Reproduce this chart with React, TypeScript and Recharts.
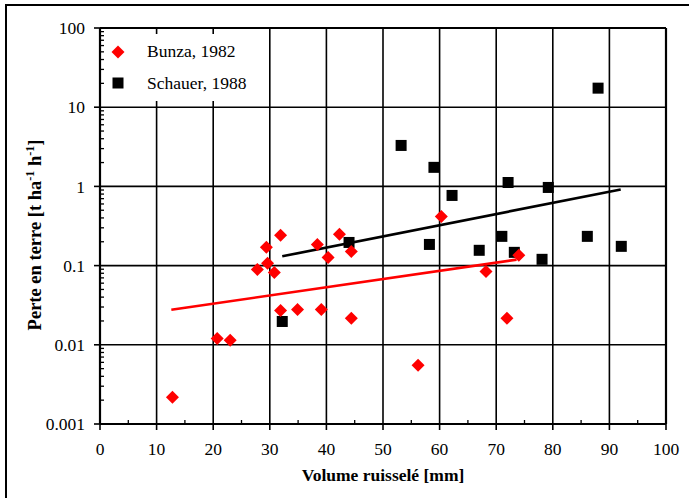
import React from 'react';
import { ScatterChart, Scatter, XAxis, YAxis, ReferenceLine } from 'recharts';

// Bunza, 1982
const bunzaX = [12.8, 20.7, 23.0, 27.8, 29.4, 29.6, 30.8, 31.9, 31.9, 34.9, 38.4, 39.1, 40.3, 42.3, 44.4, 44.4, 56.2, 60.3, 68.2, 71.9, 74.0];
const bunzaY = [0.00217, 0.012, 0.0114, 0.0895, 0.17, 0.107, 0.082, 0.241, 0.0272, 0.028, 0.185, 0.028, 0.127, 0.248, 0.151, 0.0216, 0.0055, 0.418, 0.0845, 0.0216, 0.135];

// Schauer, 1988
const schauerX = [32.2, 44.0, 53.2, 59.0, 62.2, 58.2, 67.0, 71.0, 72.1, 73.2, 78.1, 79.2, 86.1, 88.0, 92.1];
const schauerY = [0.0197, 0.196, 3.29, 1.74, 0.769, 0.185, 0.156, 0.234, 1.12, 0.147, 0.12, 0.97, 0.234, 17.4, 0.175];

// fitted lines (end points)
const bunzaFitX = [12.6, 73.6];
const bunzaFitY = [0.0277, 0.119];
const schauerFitX = [32.2, 92.0];
const schauerFitY = [0.131, 0.916];

const xMajor = [0, 10, 20, 30, 40, 50, 60, 70, 80, 90, 100];
const xMinor = [5, 15, 25, 35, 45, 55, 65, 75, 85, 95];
const yMajor = [0.001, 0.01, 0.1, 1, 10, 100];
const yMinorSteps = [2, 3, 4, 5, 6, 7, 8, 9];

const yMinor = yMajor.slice(0, -1).flatMap((d) => yMinorSteps.map((m) => +(d * m).toPrecision(3)));

const toPoints = (xs: number[], ys: number[]) => xs.map((x, i) => ({ x, y: ys[i] }));

const bunzaData = toPoints(bunzaX, bunzaY);
const schauerData = toPoints(schauerX, schauerY);
const bunzaFit = toPoints(bunzaFitX, bunzaFitY);
const schauerFit = toPoints(schauerFitX, schauerFitY);

const FONT = "'Liberation Serif', 'Times New Roman', serif";
const FS = 17.5;

const isMajorY = (v: number) => {
  const l = Math.log10(v);
  return Math.abs(l - Math.round(l)) < 1e-6;
};

const XTick = (props: any) => {
  const { x, y, payload } = props;
  const v = payload.value;
  if (v % 10 === 0) {
    return (
      <g>
        <line x1={x} x2={x} y1={y} y2={y + 6} stroke="#000" strokeWidth={1.6} />
        <text x={x} y={y + 31} textAnchor="middle" fontFamily={FONT} fontSize={FS} fill="#000">
          {v}
        </text>
      </g>
    );
  }
  return <line x1={x} x2={x} y1={y} y2={y - 4} stroke="#000" strokeWidth={1.3} />;
};

const YTick = (props: any) => {
  const { x, y, payload } = props;
  const v = payload.value;
  if (isMajorY(v)) {
    return (
      <g>
        <line x1={x - 6} x2={x} y1={y} y2={y} stroke="#000" strokeWidth={1.6} />
        <text x={x - 15} y={y} dy="0.35em" textAnchor="end" fontFamily={FONT} fontSize={FS} fill="#000">
          {String(v)}
        </text>
      </g>
    );
  }
  return <line x1={x} x2={x + 4} y1={y} y2={y} stroke="#000" strokeWidth={1.3} />;
};

const Diamond = (p: any) => (
  <polygon
    points={`${p.cx},${p.cy - 6.5} ${p.cx + 6.5},${p.cy} ${p.cx},${p.cy + 6.5} ${p.cx - 6.5},${p.cy}`}
    fill="#ff0000"
  />
);

const Square = (p: any) => <rect x={p.cx - 5.5} y={p.cy - 5.5} width={11} height={11} fill="#000" />;

const NoShape = () => <g />;

export default function App() {
  return (
    <div style={{ position: 'absolute', left: 0, top: 0, width: 689, height: 498, overflow: 'hidden', background: '#fff' }}>
      <div
        style={{
          position: 'absolute',
          left: 5,
          top: 4,
          width: 720,
          height: 520,
          borderTop: '2px solid #000',
          borderLeft: '2px solid #000',
        }}
      />
      <div style={{ position: 'absolute', left: 0, top: 0 }}>
        <ScatterChart width={689} height={498} margin={{ top: 28, right: 23, left: 0, bottom: 0 }}>
          <XAxis
            type="number"
            dataKey="x"
            domain={[0, 100]}
            ticks={[...xMajor, ...xMinor].sort((a, b) => a - b)}
            interval={0}
            height={74}
            tickSize={0}
            tickMargin={0}
            tickLine={false}
            axisLine={false}
            tick={<XTick />}
            allowDataOverflow
          />
          <YAxis
            type="number"
            dataKey="y"
            scale="log"
            domain={[0.001, 100]}
            ticks={[...yMajor, ...yMinor].sort((a, b) => a - b)}
            interval={0}
            width={100}
            tickSize={0}
            tickMargin={0}
            tickLine={false}
            axisLine={false}
            tick={<YTick />}
            allowDataOverflow
          />
          {xMajor.map((v) => (
            <ReferenceLine
              key={'vx' + v}
              x={v}
              ifOverflow="visible"
              stroke="#000"
              strokeWidth={v === 0 || v === 100 ? 2.2 : 1.6}
            />
          ))}
          {yMajor.map((v) => (
            <ReferenceLine
              key={'hy' + v}
              y={v}
              ifOverflow="visible"
              stroke="#000"
              strokeWidth={v === 0.001 || v === 100 ? 2.2 : 1.6}
            />
          ))}
          <Scatter data={bunzaFit} line={{ stroke: '#ff0000', strokeWidth: 2.6 }} shape={NoShape} isAnimationActive={false} />
          <Scatter data={schauerFit} line={{ stroke: '#000', strokeWidth: 2.6 }} shape={NoShape} isAnimationActive={false} />
          <Scatter data={schauerData} shape={Square} isAnimationActive={false} />
          <Scatter data={bunzaData} shape={Diamond} isAnimationActive={false} />
        </ScatterChart>
      </div>

      {/* legend */}
      <div style={{ position: 'absolute', left: 104, top: 34, width: 158, height: 67, background: '#fff', fontFamily: FONT, fontSize: FS }}>
        <svg width={20} height={20} style={{ position: 'absolute', left: 4, top: 8 }}>
          <polygon points="10,3.5 16.5,10 10,16.5 3.5,10" fill="#ff0000" />
        </svg>
        <svg width={20} height={20} style={{ position: 'absolute', left: 4, top: 39 }}>
          <rect x={4.5} y={4.5} width={11} height={11} fill="#000" />
        </svg>
        <div style={{ position: 'absolute', left: 43, top: 7, whiteSpace: 'nowrap', lineHeight: '20px' }}>Bunza, 1982</div>
        <div style={{ position: 'absolute', left: 43, top: 39, whiteSpace: 'nowrap', lineHeight: '20px' }}>Schauer, 1988</div>
      </div>

      {/* axis titles */}
      <div
        style={{
          position: 'absolute',
          left: 283,
          width: 200,
          top: 464,
          textAlign: 'center',
          fontFamily: FONT,
          fontSize: FS,
          fontWeight: 'bold',
          lineHeight: '22px',
          whiteSpace: 'nowrap',
        }}
      >
        Volume ruisselé [mm]
      </div>
      <div
        style={{
          position: 'absolute',
          left: 35 - 140,
          top: 235 - 11,
          width: 280,
          textAlign: 'center',
          transform: 'rotate(-90deg)',
          fontFamily: FONT,
          fontSize: 18.5,
          fontWeight: 'bold',
          lineHeight: '22px',
          whiteSpace: 'nowrap',
        }}
      >
        Perte en terre [t ha<sup style={{ fontSize: 12, lineHeight: 0 }}>-1</sup> h<sup style={{ fontSize: 12, lineHeight: 0 }}>-1</sup>]
      </div>
    </div>
  );
}
